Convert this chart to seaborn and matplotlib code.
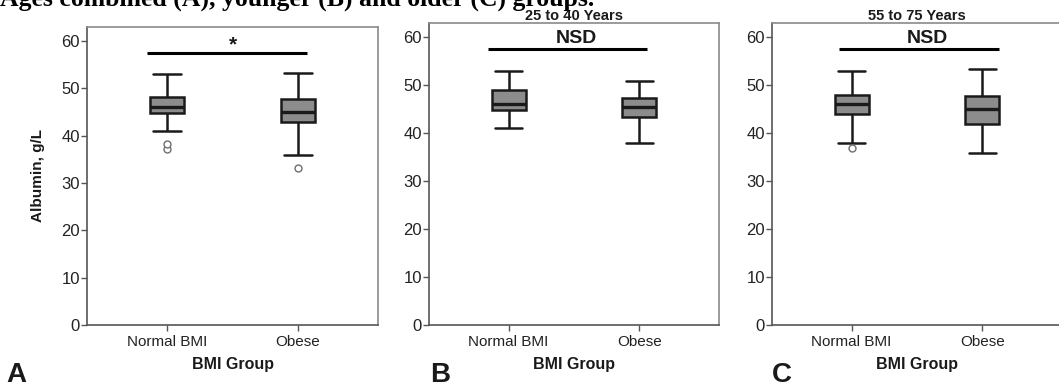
import numpy as np
import pandas as pd
import matplotlib
matplotlib.use("Agg")
import matplotlib.pyplot as plt
import seaborn as sns

# ---------------- data ----------------
groups = ["Normal BMI", "Obese"]
# five-number summaries: lower whisker, Q1, median, Q3, upper whisker (g/L)
a_normal = [41.0, 44.9, 46.0, 48.1, 53.0]
a_obese = [36.0, 43.0, 45.1, 47.7, 53.3]
b_normal = [41.0, 44.9, 46.0, 49.0, 52.9]
b_obese = [38.0, 43.4, 45.5, 47.4, 51.0]
c_normal = [37.9, 44.0, 46.0, 48.0, 53.0]
c_obese = [35.8, 41.9, 45.0, 47.7, 53.3]
# outliers
a_out_normal = [37.3, 38.2]
a_out_obese = [33.1]
b_out_normal = []
b_out_obese = []
c_out_normal = [37.0]
c_out_obese = []

panel_titles = ["", "25 to 40 Years", "55 to 75 Years"]
sig_labels = ["*", "NSD", "NSD"]
sig_level = [57.5, 57.5, 57.5]
sig_span = [(-0.15, 1.07), (-0.16, 1.06), (-0.10, 1.13)]
sig_text_x = [0.5, 0.52, 0.58]
panel_letters = ["A", "B", "C"]
yticks = [0, 10, 20, 30, 40, 50, 60]
caption = "Ages combined (A), younger (B) and older (C) groups."

# ---------------- style ----------------
sns.set_theme(style="ticks")
plt.rcParams["font.family"] = ["Liberation Sans", "DejaVu Sans"]
TXT = "#1a1a1a"

fig = plt.figure(figsize=(10.59, 3.88), dpi=100)
W, H = 1059.0, 388.0
rects = [
    (87 / W, 1 - 325 / H, 291 / W, (325 - 27) / H),
    (429 / W, 1 - 325 / H, 290 / W, (325 - 23) / H),
    (772 / W, 1 - 325 / H, 290 / W, (325 - 23) / H),
]

panels = [
    (a_normal, a_obese, a_out_normal, a_out_obese),
    (b_normal, b_obese, b_out_normal, b_out_obese),
    (c_normal, c_obese, c_out_normal, c_out_obese),
]

for i, (nrm, obs, onrm, oobs) in enumerate(panels):
    ax = fig.add_axes(rects[i])
    df = pd.DataFrame({
        "BMI Group": [groups[0]] * len(nrm) + [groups[1]] * len(obs),
        "Albumin": list(nrm) + list(obs),
    })
    sns.boxplot(data=df, x="BMI Group", y="Albumin", order=groups,
                whis=(0, 100), width=0.26, color="#8c8c8c", saturation=1,
                linecolor=TXT, linewidth=1.8, fliersize=0,
                capwidths=0.21, medianprops={"linewidth": 2.4}, ax=ax)
    out = pd.DataFrame({
        "BMI Group": [groups[0]] * len(onrm) + [groups[1]] * len(oobs),
        "Albumin": list(onrm) + list(oobs),
    })
    if len(out):
        sns.stripplot(data=out, x="BMI Group", y="Albumin", order=groups,
                      jitter=False, size=5, color="white",
                      edgecolor="#6e6e6e", linewidth=1.0, ax=ax)
    ax.set_xlim(-0.61, 1.61)
    ax.set_ylim(0, 63)
    ax.set_yticks(yticks)
    ax.set_yticklabels([str(t) for t in yticks], fontsize=12, color="#222222")
    ax.set_xticks([0, 1])
    ax.set_xticklabels(groups, fontsize=11, color="#222222")
    ax.tick_params(axis="both", direction="out", length=4, width=1,
                   color="#555555", pad=1)
    ax.tick_params(axis="x", pad=3)
    for s in ax.spines.values():
        s.set_visible(True)
        s.set_color("#8a8a8a")
        s.set_linewidth(1.2)
    ax.spines["left"].set_color("#555555")
    ax.spines["bottom"].set_color("#555555")
    ax.set_xlabel("BMI Group", fontsize=11.5, fontweight="bold", color=TXT,
                  labelpad=6)
    if i == 0:
        ax.set_ylabel("Albumin, g/L", fontsize=11, fontweight="bold",
                      color=TXT, labelpad=12)
    else:
        ax.set_ylabel("")
    if panel_titles[i]:
        ax.set_title(panel_titles[i], fontsize=10.5, fontweight="bold",
                     color=TXT, pad=1)
    # significance bar
    ax.plot(list(sig_span[i]), [sig_level[i]] * 2, color="black", lw=2.2,
            solid_capstyle="butt")
    if sig_labels[i] == "*":
        ax.text(sig_text_x[i], sig_level[i] + 1.7, sig_labels[i], ha="center",
                va="center", fontsize=15, fontweight="bold", color=TXT)
    else:
        ax.text(sig_text_x[i], sig_level[i] + 0.5, sig_labels[i], ha="center",
                va="bottom", fontsize=14, fontweight="bold", color=TXT)
    # panel letter
    fig.text([6, 430, 772][i] / W, 1 - 382 / H, panel_letters[i],
             fontsize=20, fontweight="bold", color=TXT,
             ha="left", va="baseline")

fig.text(0 / W, 1 - 6 / H, caption, fontsize=18.5, fontweight="bold",
         family=["Liberation Serif", "DejaVu Serif"], color="black",
         ha="left", va="baseline")

fig.savefig("out.png", dpi=100)
